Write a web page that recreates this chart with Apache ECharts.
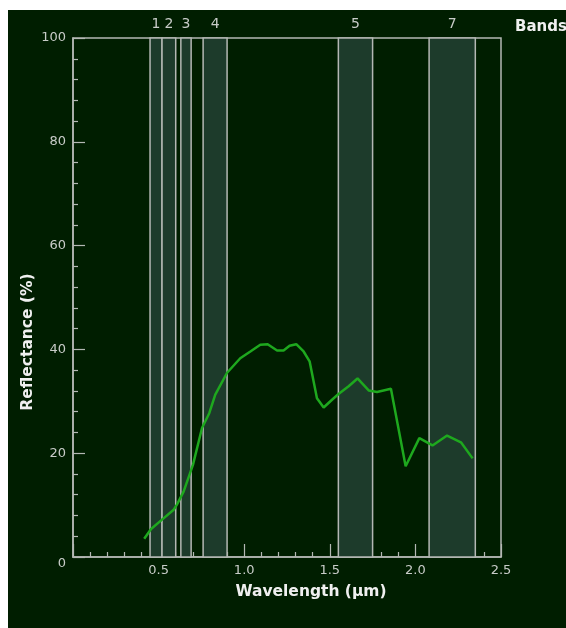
<!DOCTYPE html>
<html>
<head>
<meta charset="utf-8">
<script src="https://cdn.jsdelivr.net/npm/echarts@6/dist/echarts.min.js"></script>
<style>
  body { margin: 0; background: #fff; }
  #chart { position: absolute; left: 8px; top: 10px; width: 558px; height: 618px; background: #001e00; }
</style>
</head>
<body>
<div id="chart"></div>
<script>
// reflectance curve (wavelength µm, reflectance %)
var wavelength = [0.416, 0.456, 0.520, 0.588, 0.607, 0.646, 0.701, 0.754, 0.796, 0.831, 0.900, 0.977,
  1.036, 1.094, 1.137, 1.192, 1.230, 1.265, 1.304, 1.347, 1.382, 1.425, 1.464, 1.513, 1.551, 1.610,
  1.662, 1.727, 1.776, 1.857, 1.943, 2.023, 2.100, 2.185, 2.266, 2.334];
var reflectance = [3.5, 5.4, 7.2, 9.1, 10.1, 12.6, 17.8, 24.9, 27.7, 31.3, 35.5, 38.3,
  39.6, 40.9, 41.0, 39.8, 39.8, 40.7, 41.0, 39.6, 37.7, 30.6, 28.8, 30.3, 31.4, 32.9,
  34.4, 32.1, 31.8, 32.4, 17.5, 22.9, 21.5, 23.4, 22.1, 19.0];

// Landsat TM bands
var bandNames = ['1', '2', '3', '4', '5', '7'];
var bandStart = [0.45, 0.52, 0.63, 0.76, 1.55, 2.08];
var bandEnd   = [0.52, 0.60, 0.69, 0.90, 1.75, 2.35];

var font = 'DejaVu Sans';
var lineCol = '#b4b8b4';
var textCol = '#c8ccc8';

var chart = echarts.init(document.getElementById('chart'));

var points = wavelength.map(function (w, i) { return [w, reflectance[i]]; });
var areas = bandNames.map(function (n, i) {
  return [{ name: n, xAxis: bandStart[i] }, { xAxis: bandEnd[i] }];
});

var option = {
  animation: false,
  grid: { left: 65, top: 28, width: 428, height: 519, show: true, borderColor: lineCol, borderWidth: 1.5 },
  xAxis: {
    type: 'value', min: 0, max: 2.5, interval: 0.5,
    axisLine: { lineStyle: { color: lineCol, width: 1.5 } },
    axisTick: { inside: true, length: 13, lineStyle: { color: lineCol, width: 1.2 } },
    minorTick: { show: true, splitNumber: 5, length: 5, lineStyle: { color: lineCol, width: 1.2 } },
    splitLine: { show: false },
    axisLabel: {
      showMinLabel: false, color: textCol, fontFamily: font, fontSize: 13, margin: 7,
      formatter: function (v) { return v.toFixed(1); }
    }
  },
  yAxis: {
    type: 'value', min: 0, max: 100, interval: 20,
    axisLine: { lineStyle: { color: lineCol, width: 1.5 } },
    axisTick: { inside: true, length: 12, lineStyle: { color: lineCol, width: 1.2 } },
    minorTick: { show: true, splitNumber: 5, length: 5, lineStyle: { color: lineCol, width: 1.2 } },
    splitLine: { show: false },
    axisLabel: {
      color: textCol, fontFamily: font, fontSize: 13, margin: 7,
      formatter: function (v) { return v === 0 ? '{z|0}' : String(v); },
      rich: { z: { color: textCol, fontFamily: font, fontSize: 13, padding: [14, 0, 0, 0] } }
    }
  },
  graphic: [
    { type: 'text', left: 507, top: 10,
      style: { text: 'Bands', fill: '#f0f0f0', font: 'bold 15px "DejaVu Sans"' } },
    { type: 'text', x: 303, y: 582,
      style: { text: 'Wavelength (µm)', fill: '#f0f0f0', font: 'bold 15.5px "DejaVu Sans"', align: 'center', verticalAlign: 'middle' } },
    { type: 'text', x: 20, y: 332, rotation: Math.PI / 2,
      style: { text: 'Reflectance (%)', fill: '#f0f0f0', font: 'bold 15.5px "DejaVu Sans"', align: 'center', verticalAlign: 'middle' } }
  ],
  series: [{
    type: 'line',
    data: points,
    showSymbol: false,
    lineStyle: { color: '#1ea81e', width: 2.5 },
    z: 5,
    markArea: {
      silent: true,
      itemStyle: { color: '#1d3b2b', borderColor: lineCol, borderWidth: 1.5 },
      label: { show: true, position: 'top', distance: 6, color: textCol, fontFamily: font, fontSize: 14 },
      data: areas
    }
  }]
};

chart.setOption(option);
</script>
</body>
</html>
